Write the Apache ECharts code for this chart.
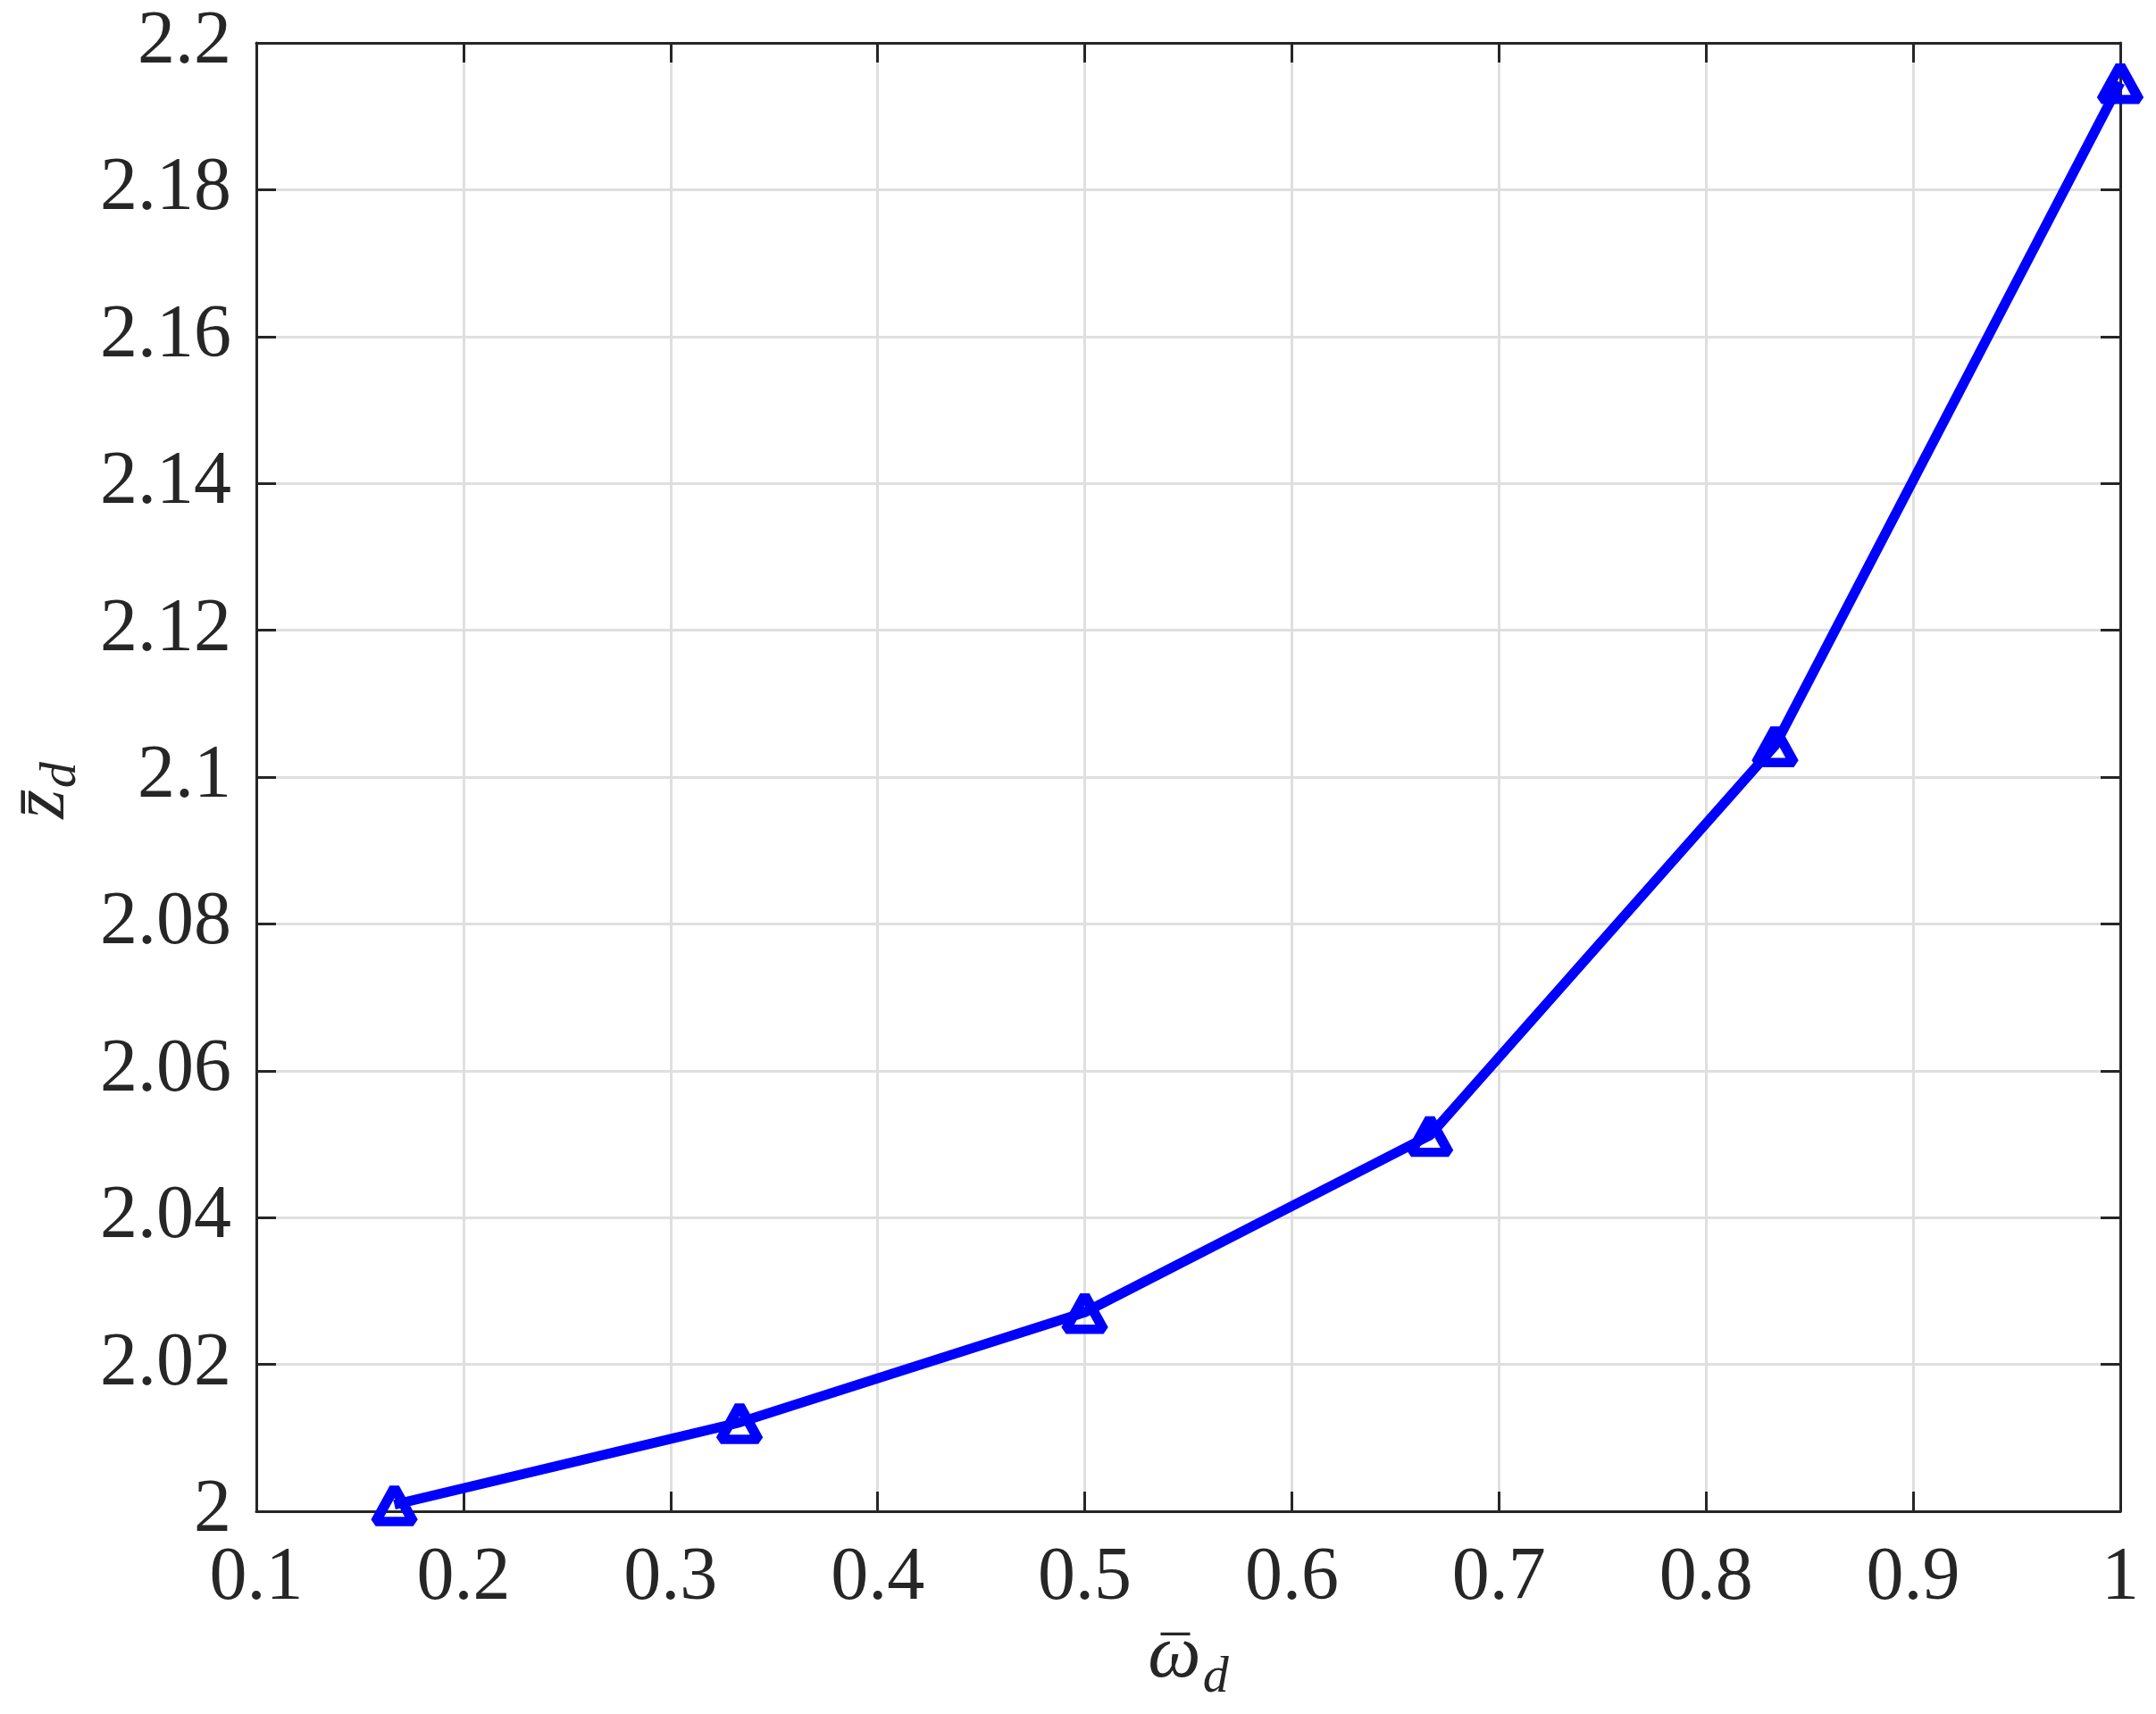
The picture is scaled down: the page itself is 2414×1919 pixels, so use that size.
<!DOCTYPE html>
<html>
<head>
<meta charset="utf-8">
<style>
  html, body { margin: 0; padding: 0; background: #fff; }
  #chart { width: 2414px; height: 1919px; }
</style>
<script src="https://cdn.jsdelivr.net/npm/echarts@6/dist/echarts.min.js"></script>
</head>
<body>
<div id="chart"></div>
<script>
// omega_d bar values and z_d bar values
const omegaD = [1 / 6, 2 / 6, 3 / 6, 4 / 6, 5 / 6, 1]
const zD = [2.0009, 2.0121, 2.0271, 2.0512, 2.1043, 2.1946]

const xMin = 0.1, xMax = 1, xStep = 0.1
const yMin = 2, yMax = 2.2, yStep = 0.02

const ink = '#262626'
const blue = '#0000ff'
const serif = '"Liberation Serif", "DejaVu Serif", serif'

const chart = echarts.init(document.getElementById('chart'))

const tickStyle = { show: true, inside: true, length: 22, lineStyle: { color: ink, width: 3 } }
const lineStyle = { show: true, onZero: false, lineStyle: { color: ink, width: 3 } }

chart.setOption({
  animation: false,
  backgroundColor: '#fff',
  grid: { left: 287, right: 40, top: 48, bottom: 227, containLabel: false, outerBoundsMode: 'none' },
  xAxis: [
    {
      type: 'value', min: xMin, max: xMax, interval: xStep,
      axisLine: lineStyle,
      axisTick: tickStyle,
      splitLine: { show: true, lineStyle: { color: '#dfdfdf', width: 3 } },
      axisLabel: { color: ink, fontFamily: serif, fontSize: 84, margin: 34 },
      // the bar over omega sits on its own line above it
      name: '{bar|_}\n{w|ω}{s|d}',
      nameLocation: 'middle',
      nameGap: 100,
      nameMoveOverlap: false,
      nameTextStyle: {
        rich: {
          bar: { fontFamily: serif, fontSize: 64, color: ink, lineHeight: 28, padding: [0, 29, 0, 0] },
          w: { fontFamily: serif, fontStyle: 'italic', fontSize: 84, color: ink, lineHeight: 70 },
          s: { fontFamily: serif, fontStyle: 'italic', fontSize: 58, color: ink, lineHeight: 70, padding: [48, 0, 0, 2] }
        }
      }
    },
    {
      type: 'value', position: 'top', min: xMin, max: xMax, interval: xStep,
      axisLine: lineStyle,
      axisTick: tickStyle,
      splitLine: { show: false },
      axisLabel: { show: false }
    }
  ],
  yAxis: [
    {
      type: 'value', min: yMin, max: yMax, interval: yStep,
      axisLine: lineStyle,
      axisTick: tickStyle,
      splitLine: { show: true, lineStyle: { color: '#dfdfdf', width: 3 } },
      axisLabel: { color: ink, fontFamily: serif, fontSize: 84, margin: 28 },
      name: '{w|z̄}{s|d}',
      nameLocation: 'middle',
      nameGap: 198,
      nameMoveOverlap: false,
      nameTextStyle: {
        rich: {
          w: { fontFamily: serif, fontStyle: 'italic', fontSize: 84, color: ink, lineHeight: 80 },
          s: { fontFamily: serif, fontStyle: 'italic', fontSize: 58, color: ink, lineHeight: 80, padding: [39, 30, 0, 2] }
        }
      }
    },
    {
      type: 'value', position: 'right', min: yMin, max: yMax, interval: yStep,
      axisLine: lineStyle,
      axisTick: tickStyle,
      splitLine: { show: false },
      axisLabel: { show: false }
    }
  ],
  series: [
    {
      type: 'line',
      data: omegaD.map((x, i) => [x, zD[i]]),
      lineStyle: { color: blue, width: 11 },
      symbol: 'triangle',
      symbolSize: [42, 38],
      showAllSymbol: true,
      itemStyle: { color: 'rgba(0,0,0,0)', borderColor: blue, borderWidth: 11, borderJoin: 'bevel' },
      clip: false,
      z: 5
    }
  ]
})
</script>
</body>
</html>
